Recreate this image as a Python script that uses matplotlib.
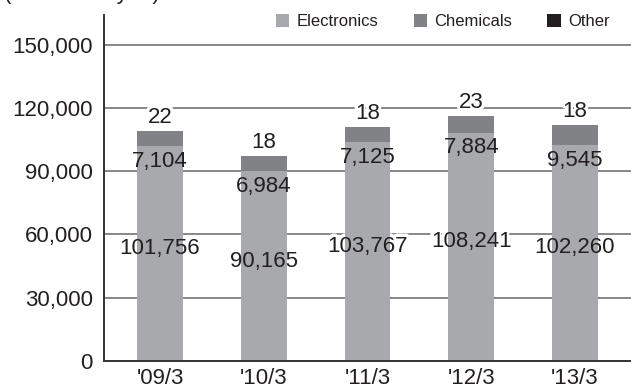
import numpy as np
import matplotlib
matplotlib.use("Agg")
from matplotlib import pyplot as plt
from matplotlib import patheffects

# net sales by segment, millions of yen
periods = ["'09/3", "'10/3", "'11/3", "'12/3", "'13/3"]
electronics = [101756, 90165, 103767, 108241, 102260]
chemicals = [7104, 6984, 7125, 7884, 9545]
other = [22, 18, 18, 23, 18]
y_ticks = [0, 30000, 60000, 90000, 120000, 150000]

c_elec = '#a7a9ac'
c_chem = '#808285'
c_other = '#231f20'
c_text = '#231f20'

plt.rcParams['font.family'] = ['Liberation Sans', 'DejaVu Sans']

fig = plt.figure(figsize=(6.31, 3.88), dpi=100)
ax = fig.add_axes([104 / 631, 1 - 361 / 388, 1 - 104 / 631, (361 - 15) / 388])

x = np.arange(len(periods))
elec = np.array(electronics)
chem = np.array(chemicals)
oth = np.array(other)
w = 0.44

ax.bar(x, elec, w, color=c_elec, label='Electronics', zorder=2)
ax.bar(x, chem, w, bottom=elec, color=c_chem, label='Chemicals', zorder=2)
ax.bar(x, oth, w, bottom=elec + chem, color=c_other, label='Other', zorder=2)

ax.set_xlim(-0.54, 4.54)
ax.set_ylim(0, 164000)
ax.set_yticks(y_ticks)
ax.set_yticklabels([f'{v:,}' for v in y_ticks])
ax.set_xticks(x)
ax.set_xticklabels(periods)
ax.tick_params(length=0, labelsize=16, colors=c_text)
ax.tick_params(axis='y', pad=8)
ax.tick_params(axis='x', pad=5)

# horizontal grid, skipping the baseline
for v in y_ticks[1:]:
    ax.axhline(v, color='#737375', lw=1.2, zorder=0.5)

for s in ['top', 'right']:
    ax.spines[s].set_visible(False)
for s in ['left', 'bottom']:
    ax.spines[s].set_color('#333333')
    ax.spines[s].set_linewidth(1.4)
    ax.spines[s].set_zorder(3)

knockout = [patheffects.withStroke(linewidth=4, foreground='white')]


def label(xi, yi, txt, dy=0, mask=True):
    # white outline under the bars breaks the grid line around the digits
    if mask:
        ax.annotate(txt, (xi, yi), xytext=(0, dy), textcoords='offset points',
                    ha='center', va='center', fontsize=16, color='white',
                    path_effects=knockout, zorder=1)
    ax.annotate(txt, (xi, yi), xytext=(0, dy), textcoords='offset points',
                ha='center', va='center', fontsize=16, color=c_text, zorder=4)


for i in range(len(periods)):
    label(x[i], elec[i] * 0.525, f'{electronics[i]:,}')
    label(x[i], elec[i], f'{chemicals[i]:,}', dy=-11, mask=False)
    label(x[i], elec[i] + chem[i] + oth[i], f'{other[i]:,}', dy=10)

fig.legend(loc='center', bbox_to_anchor=(0.702, 0.944), ncol=3, frameon=False,
           fontsize=12, handlelength=0.8, handleheight=0.8, handletextpad=0.45,
           columnspacing=2.1, borderpad=0, labelcolor=c_text)

# unit caption sits just above the top edge
fig.text(0.006, 1 + 1 / 388, '(Millions of yen)', fontsize=16, color=c_text,
         ha='left', va='baseline')

fig.savefig('out.png', dpi=100)
